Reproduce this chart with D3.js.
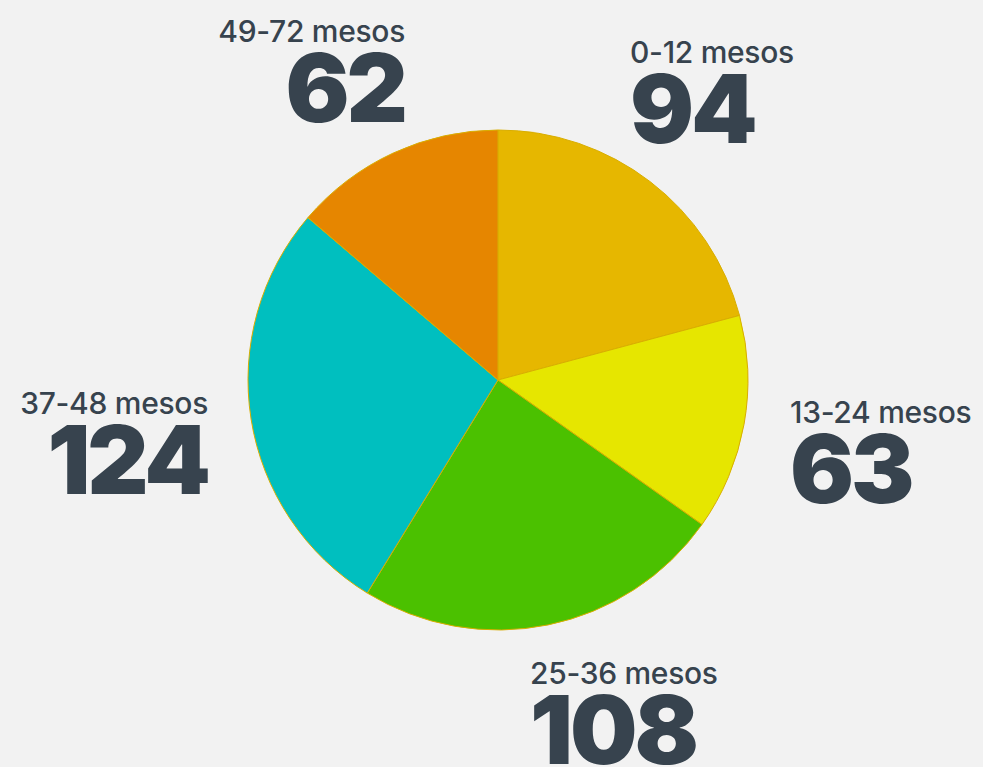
<!DOCTYPE html>
<html><head><meta charset="utf-8">
<script src="https://cdn.jsdelivr.net/npm/d3@7"></script>
<style>
html,body{margin:0;padding:0;background:#f2f2f2;}
svg{display:block;}
</style></head>
<body>
<script>
const categories = ["0-12 mesos","13-24 mesos","25-36 mesos","37-48 mesos","49-72 mesos"];
const values = [94, 63, 108, 124, 62];
const colors = ["#e6b700","#e6e600","#4bc100","#00bfbf","#e68600"];

// label layout: anchor offsets relative to pie centre
const labelLayout = [
  {dx: 132, dy: -317, anchor: "start"},
  {dx: 292, dy: 43, anchor: "start"},
  {dx: 32, dy: 304, anchor: "start"},
  {dx: -290, dy: 34, anchor: "end"},
  {dx: -93, dy: -338, anchor: "end"}
];

const W = 983, H = 767, cx = 498, cy = 380, R = 250;
const svg = d3.select("body").append("svg").attr("width", W).attr("height", H);
svg.append("rect").attr("width", W).attr("height", H).attr("fill", "#f2f2f2");

const data = categories.map((c, i) => ({cat: c, value: values[i], color: colors[i]}));
const pie = d3.pie().value(d => d.value).sort(null);
const arc = d3.arc().innerRadius(0).outerRadius(R);
const g = svg.append("g").attr("transform", `translate(${cx},${cy})`);
g.selectAll("path").data(pie(data)).join("path")
  .attr("d", arc)
  .attr("fill", d => d.data.color)
  .attr("stroke", "#d9ae00")
  .attr("stroke-width", 1);

const lg = g.selectAll("g.lbl").data(pie(data)).join("g").attr("class", "lbl")
  .attr("transform", (d, i) => `translate(${labelLayout[i].dx},${labelLayout[i].dy})`);
lg.append("text")
  .attr("text-anchor", (d, i) => labelLayout[i].anchor)
  .attr("font-family", "Inter, 'Liberation Sans', sans-serif")
  .attr("font-weight", 500)
  .attr("font-size", 30)
  .attr("letter-spacing", -0.3)
  .attr("fill", "#37434e")
  .text(d => d.data.cat);
lg.append("text")
  .attr("y", 80)
  .attr("text-anchor", (d, i) => labelLayout[i].anchor)
  .attr("font-family", "Inter, 'Liberation Sans', sans-serif")
  .attr("font-weight", 900)
  .attr("font-size", 95)
  .attr("letter-spacing", -3)
  .attr("fill", "#37434e")
  .text(d => d.data.value);
</script>
</body></html>
